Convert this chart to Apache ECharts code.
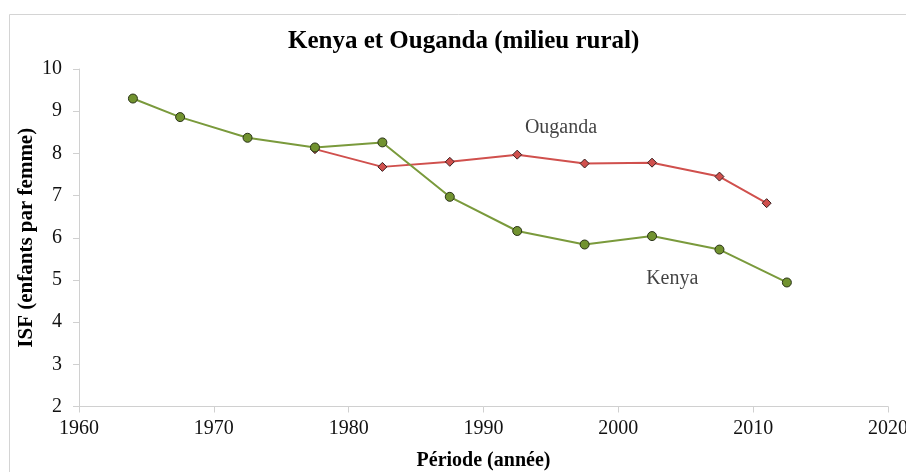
<!DOCTYPE html>
<html>
<head>
<meta charset="utf-8">
<title>Kenya et Ouganda (milieu rural)</title>
<script src="https://cdn.jsdelivr.net/npm/echarts@6/dist/echarts.min.js"></script>
<style>
  html, body { margin: 0; padding: 0; background: #fff; }
  #chart { width: 906px; height: 472px; }
</style>
</head>
<body>
<div id="chart"></div>
<script>
// ISF en milieu rural, Kenya et Ouganda
var kenyaYears = [1964, 1967.5, 1972.5, 1977.5, 1982.5, 1987.5, 1992.5, 1997.5, 2002.5, 2007.5, 2012.5];
var kenyaValues = [9.3, 8.86, 8.37, 8.14, 8.26, 6.97, 6.16, 5.84, 6.04, 5.72, 4.94];

var ougandaYears = [1977.5, 1982.5, 1987.5, 1992.5, 1997.5, 2002.5, 2007.5, 2011];
var ougandaValues = [8.1, 7.68, 7.8, 7.97, 7.76, 7.78, 7.45, 6.82];

// étiquettes posées dans le graphique
var labelNames = ['Ouganda', 'Kenya'];
var labelYears = [1995.75, 2004.0];
var labelValues = [8.6, 5.02];

var serif = "'Liberation Serif', 'Times New Roman', serif";

function pairs(xs, ys) {
    var out = [];
    for (var i = 0; i < xs.length; i++) {
        out.push([xs[i], ys[i]]);
    }
    return out;
}

var labelData = [];
for (var i = 0; i < labelNames.length; i++) {
    labelData.push({ name: labelNames[i], value: [labelYears[i], labelValues[i]] });
}

var chart = echarts.init(document.getElementById('chart'));
chart.setOption({
    animation: false,
    backgroundColor: '#ffffff',
    title: {
        text: 'Kenya et Ouganda (milieu rural)',
        left: 283,
        top: 24,
        textStyle: { fontFamily: serif, fontWeight: 'bold', fontSize: 25, color: '#000' }
    },
    graphic: [{
        type: 'rect',
        shape: { x: 9.5, y: 14.5, width: 920, height: 480 },
        style: { fill: 'none', stroke: '#d4d4d4', lineWidth: 1 },
        silent: true
    }],
    grid: { left: 79, right: 18, top: 69, bottom: 65.5, outerBoundsMode: 'none', containLabel: false },
    xAxis: {
        type: 'value',
        min: 1960,
        max: 2020,
        interval: 10,
        name: 'Période (année)',
        nameLocation: 'middle',
        nameGap: 44,
        nameTextStyle: { fontFamily: serif, fontWeight: 'bold', fontSize: 20, color: '#000' },
        axisLine: { lineStyle: { color: '#d0d0d0', width: 1 } },
        axisTick: { show: true, inside: false, length: 6, lineStyle: { color: '#d0d0d0' } },
        splitLine: { show: false },
        axisLabel: {
            fontFamily: serif, fontSize: 20, color: '#111', margin: 12,
            formatter: function (v) { return String(v); }
        }
    },
    yAxis: {
        type: 'value',
        min: 2,
        max: 10,
        interval: 1,
        name: 'ISF (enfants par femme)',
        nameLocation: 'middle',
        nameGap: 42,
        nameMoveOverlap: false,
        nameTextStyle: { fontFamily: serif, fontWeight: 'bold', fontSize: 21, color: '#000' },
        axisLine: { show: true, lineStyle: { color: '#d0d0d0', width: 1 } },
        axisTick: { show: true, inside: false, length: 6, lineStyle: { color: '#d0d0d0' } },
        splitLine: { show: false },
        axisLabel: { fontFamily: serif, fontSize: 20, color: '#111', margin: 17 }
    },
    series: [
        {
            name: 'Ouganda',
            type: 'line',
            data: pairs(ougandaYears, ougandaValues),
            symbol: 'diamond',
            symbolSize: 9,
            lineStyle: { color: '#d0504d', width: 2 },
            itemStyle: { color: '#d0504d', borderColor: '#3a2020', borderWidth: 1 },
            z: 3
        },
        {
            name: 'Kenya',
            type: 'line',
            data: pairs(kenyaYears, kenyaValues),
            symbol: 'circle',
            symbolSize: 9,
            lineStyle: { color: '#7a9a3c', width: 2 },
            itemStyle: { color: '#71922f', borderColor: '#2a3318', borderWidth: 1 },
            z: 4
        },
        {
            name: 'labels',
            type: 'scatter',
            data: labelData,
            symbolSize: 0,
            silent: true,
            label: {
                show: true,
                position: 'inside',
                formatter: '{b}',
                fontFamily: serif,
                fontSize: 20,
                color: '#111'
            }
        }
    ]
});
</script>
</body>
</html>
